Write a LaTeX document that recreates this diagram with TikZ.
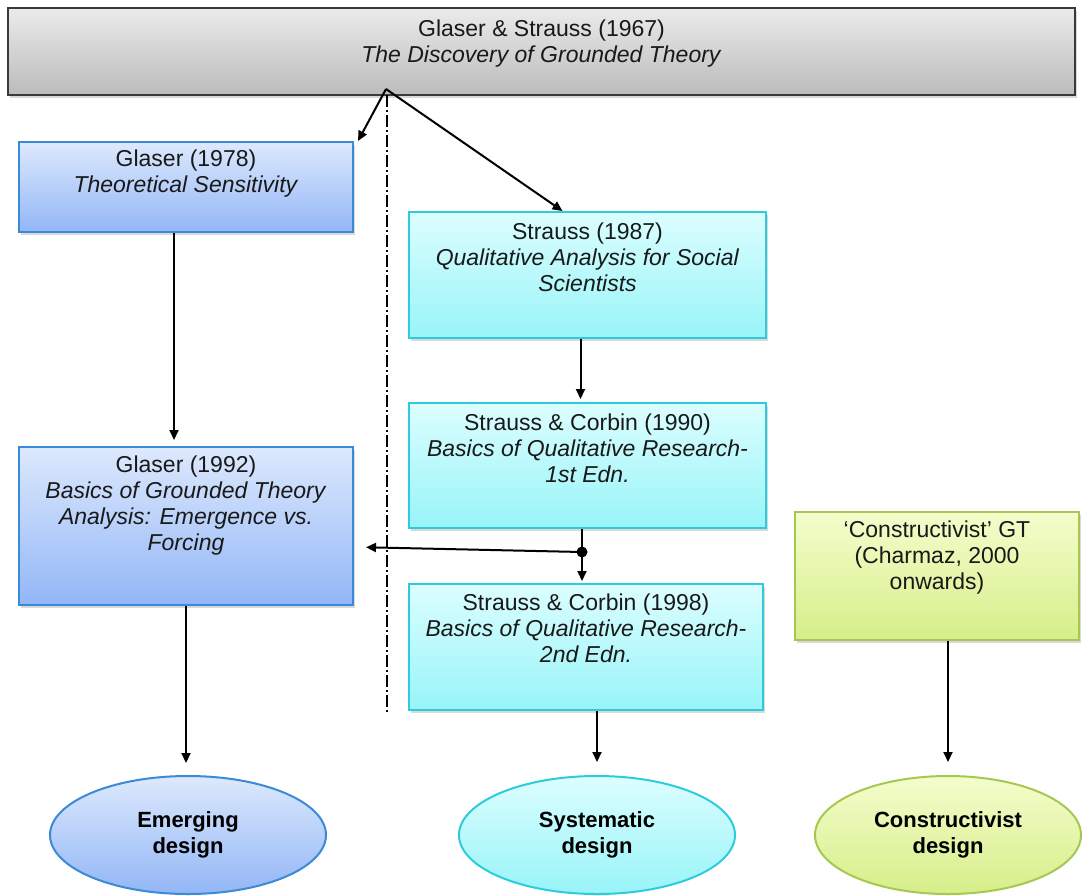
\documentclass[tikz,border=0pt]{standalone}
\usepackage{fontspec}
\setmainfont{Liberation Sans}
\usetikzlibrary{arrows.meta,shapes.geometric,shadows,calc}
\definecolor{grayTop}{HTML}{EBEBEB}
\definecolor{grayBot}{HTML}{BBBBBB}
\definecolor{grayLine}{HTML}{3A3A3A}
\definecolor{blueTop}{HTML}{DDE9FD}
\definecolor{blueBot}{HTML}{92B6F6}
\definecolor{blueLine}{HTML}{3A8AD8}
\definecolor{cyanTop}{HTML}{DCFEFF}
\definecolor{cyanBot}{HTML}{98F4F8}
\definecolor{cyanLine}{HTML}{2CCCDC}
\definecolor{greenTop}{HTML}{F4FDCC}
\definecolor{greenBot}{HTML}{D6EE8A}
\definecolor{greenLine}{HTML}{A6C850}
\tikzset{
  x=1pt, y=-1pt,
  every node/.style={font=\fontsize{23}{26}\selectfont},
  boxbase/.style={rectangle, inner sep=0pt, line width=2pt,
    drop shadow={opacity=0.3, shadow xshift=2pt, shadow yshift=-2.5pt}},
  graybox/.style={boxbase, draw=grayLine, top color=grayTop, bottom color=grayBot},
  bluebox/.style={boxbase, draw=blueLine, top color=blueTop, bottom color=blueBot},
  cyanbox/.style={boxbase, draw=cyanLine, top color=cyanTop, bottom color=cyanBot},
  greenbox/.style={boxbase, draw=greenLine, top color=greenTop, bottom color=greenBot},
  ovalbase/.style={ellipse, inner sep=0pt, line width=2pt, minimum height=118pt,
    align=center, font=\fontsize{22}{26}\selectfont\bfseries},
  txt/.style={anchor=north, align=center, inner sep=0pt, text=black!90},
  arr/.style={line width=2pt, -{Triangle[length=10pt,width=9pt]}},
  plain/.style={line width=2pt}
}
\begin{document}
\begin{tikzpicture}
\useasboundingbox (0,0) rectangle (1082,895);
% boxes
\node[graybox, minimum width=1067pt, minimum height=87pt] (top) at (541.5,51.5) {};
\node[bluebox, minimum width=334pt, minimum height=90pt] (g78) at (186,187) {};
\node[bluebox, minimum width=334pt, minimum height=158pt] (g92) at (186,526) {};
\node[cyanbox, minimum width=357pt, minimum height=126pt] (s87) at (587.5,275) {};
\node[cyanbox, minimum width=357pt, minimum height=125pt] (sc90) at (587.5,465.5) {};
\node[cyanbox, minimum width=354pt, minimum height=126pt] (sc98) at (586,647) {};
\node[greenbox, minimum width=284pt, minimum height=128pt] (cg) at (937,576) {};
% texts
\node[txt] (ttop) at ([yshift=-13pt]top.north) {Glaser \& Strauss (1967)\\ \textit{The Discovery of Grounded Theory}};
\node[txt] (tg78) at ([yshift=-9pt]g78.north) {Glaser (1978)\\ \textit{Theoretical Sensitivity}};
\node[txt] (tg92) at ([yshift=-10pt]g92.north) {Glaser (1992)\\ \textit{Basics of Grounded Theory}\\ \textit{Analysis: Emergence vs.}\\ \textit{Forcing}};
\node[txt] (ts87) at ([yshift=-12pt]s87.north) {Strauss (1987)\\ \textit{Qualitative Analysis for Social}\\ \textit{Scientists}};
\node[txt] (tsc90) at ([yshift=-12pt]sc90.north) {Strauss \& Corbin (1990)\\ \textit{Basics of Qualitative Research-}\\ \textit{1st Edn.}};
\node[txt] (tsc98) at ([yshift=-11pt]sc98.north) {Strauss \& Corbin (1998)\\ \textit{Basics of Qualitative Research-}\\ \textit{2nd Edn.}};
\node[txt] (tcg) at ([yshift=-10pt]cg.north) {`Constructivist' GT\\ (Charmaz, 2000\\ onwards)};
% ellipses
\node[ovalbase, minimum width=276pt, draw=blueLine, top color=blueTop, bottom color=blueBot] (e1) at (188,835) {Emerging\\ design};
\node[ovalbase, minimum width=276pt, draw=cyanLine, top color=cyanTop, bottom color=cyanBot] (e2) at (597,835) {Systematic\\ design};
\node[ovalbase, minimum width=266pt, draw=greenLine, top color=greenTop, bottom color=greenBot] (e3) at (948,835) {Constructivist\\ design};
% divider
\coordinate (apex) at (386,89);
\coordinate (divtop) at (387,95);
\coordinate (divend) at (387,712);
\draw[line width=1.5pt, dash pattern=on 12pt off 3pt on 2pt off 3pt] (divtop) -- (divend);
% connectors
\draw[arr] (apex) -- ([xshift=4pt]g78.north east);
\draw[arr] (apex) -- ([xshift=-25pt]s87.north);
\draw[arr, shorten >=6pt] ([xshift=-12pt]g78.south) -- ([xshift=-12pt]g92.north);
\draw[arr, shorten >=12pt] (g92.south) -- (g92.south |- e1.north);
\draw[arr, shorten >=3pt] ([xshift=-7pt]s87.south) -- ([xshift=-7pt]sc90.north);
\coordinate (dot) at (582,552);
\draw[plain] ([xshift=-5.5pt]sc90.south) -- (dot);
\fill (dot) circle (5.5pt);
\draw[arr, shorten >=2pt] (dot) -- (dot |- sc98.north);
\draw[arr, shorten >=12pt] (dot) -- ([yshift=-21pt]g92.east);
\draw[arr, shorten >=13pt] ([xshift=11pt]sc98.south) -- ([xshift=11pt]sc98.south |- e2.north);
\draw[arr, shorten >=13pt] ([xshift=11pt]cg.south) -- ([xshift=11pt]cg.south |- e3.north);
\end{tikzpicture}
\end{document}
